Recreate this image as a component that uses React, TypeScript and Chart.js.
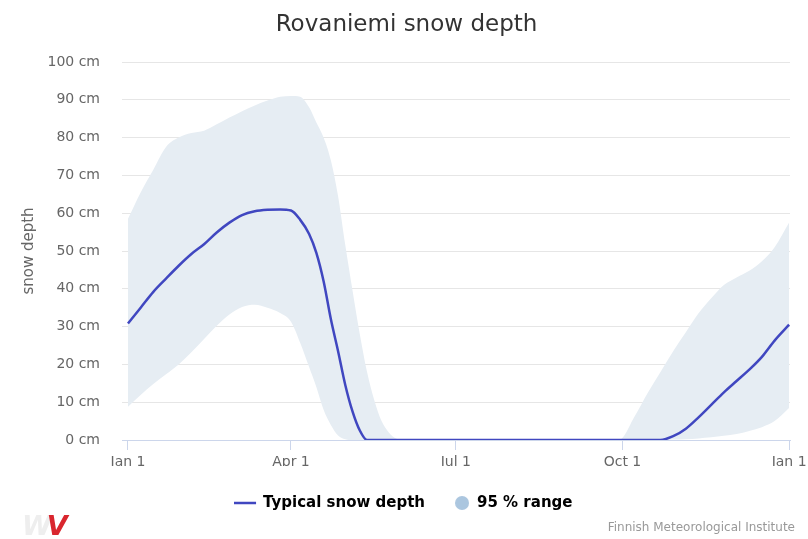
import React, { useEffect, useRef } from "react";
import { Chart, registerables } from "chart.js";

Chart.register(...registerables);

const chartTitle = "Rovaniemi snow depth";
const yAxisTitle = "snow depth";
const seriesNames = ["Typical snow depth", "95 % range"];
const creditText = "Finnish Meteorological Institute";

// day of year
const days = [0, 7, 14, 21, 28, 35, 42, 49, 56, 63, 70, 77, 84, 90, 95, 100, 104, 108, 112, 116, 120, 124, 128, 132, 136, 140, 144, 148, 152, 181, 271, 280, 287, 294, 301, 308, 315, 322, 329, 336, 343, 350, 357, 365];

const typicalDepth = [30.8, 35.0, 39.2, 42.7, 46.1, 49.2, 51.8, 54.9, 57.5, 59.5, 60.5, 60.9, 61.0, 60.7, 58.3, 54.5, 49.5, 42, 32, 23.5, 14.5, 7.5, 2.5, 0, 0, 0, 0, 0, 0, 0, 0, 0, 0, 0, 1.0, 3.0, 6.0, 9.3, 12.6, 15.6, 18.6, 22, 26.3, 30.5];

const rangeLow = [8.8, 11.9, 14.8, 17.4, 20, 23.2, 26.7, 30.2, 33.2, 35.2, 35.8, 35.0, 33.6, 31.3, 25.8, 19.3, 14, 8, 4, 1.2, 0.2, 0, 0, 0, 0, 0, 0, 0, 0, 0, 0, 0, 0, 0, 0.1, 0.2, 0.4, 0.7, 1.1, 1.6, 2.4, 3.4, 5, 8.5];

const rangeHigh = [58.5, 65.5, 71.5, 77.5, 80, 81.2, 81.8, 83.5, 85.3, 87, 88.5, 89.8, 90.8, 91, 90.8, 88, 84, 80, 74, 64.5, 51.5, 39.5, 28, 18, 10.5, 5, 2, 0.4, 0, 0, 0, 6.5, 12.5, 18, 23.5, 28.5, 33.5, 37.5, 41, 43, 44.8, 47.3, 51, 57.5];

const tickDays = [0, 90, 181, 273, 365];
const tickLabels = ["Jan 1", "Apr 1", "Jul 1", "Oct 1", "Jan 1"];

const LINE_COLOR = "#4047c0";
const BAND_COLOR = "#e6edf3";
const BAND_LEGEND_COLOR = "#abc6df";
const FONT = "DejaVu Sans";

function makeLineIcon(): HTMLCanvasElement {
  const c = document.createElement("canvas");
  c.width = 28;
  c.height = 4;
  const ctx = c.getContext("2d")!;
  ctx.strokeStyle = LINE_COLOR;
  ctx.lineWidth = 2.5;
  ctx.beginPath();
  ctx.moveTo(0, 2);
  ctx.lineTo(22, 2);
  ctx.stroke();
  return c;
}

function makeCircleIcon(): HTMLCanvasElement {
  const c = document.createElement("canvas");
  c.width = 14;
  c.height = 14;
  const ctx = c.getContext("2d")!;
  ctx.fillStyle = BAND_LEGEND_COLOR;
  ctx.beginPath();
  ctx.arc(7, 7, 7, 0, Math.PI * 2);
  ctx.fill();
  return c;
}

export default function App() {
  const canvasRef = useRef<HTMLCanvasElement | null>(null);

  useEffect(() => {
    if (!canvasRef.current) return;
    Chart.defaults.font.family = FONT;
    const lineIcon = makeLineIcon();
    const circleIcon = makeCircleIcon();
    const toPts = (vals: number[]) => days.map((d, i) => ({ x: d, y: vals[i] }));

    const chart = new Chart(canvasRef.current, {
      type: "line",
      data: {
        datasets: [
          {
            label: seriesNames[0],
            data: toPts(typicalDepth),
            borderColor: LINE_COLOR,
            borderWidth: 2.5,
            pointRadius: 0,
            fill: false,
            cubicInterpolationMode: "monotone",
          },
          {
            label: "low",
            data: toPts(rangeLow),
            borderWidth: 0,
            borderColor: "rgba(0,0,0,0)",
            pointRadius: 0,
            fill: false,
            cubicInterpolationMode: "monotone",
          },
          {
            label: seriesNames[1],
            data: toPts(rangeHigh),
            borderWidth: 0,
            borderColor: "rgba(0,0,0,0)",
            backgroundColor: BAND_COLOR,
            pointRadius: 0,
            fill: 1,
            cubicInterpolationMode: "monotone",
          },
        ],
      },
      options: {
        animation: false,
        responsive: false,
        maintainAspectRatio: false,
        layout: { padding: { left: 23, right: 18, top: 0, bottom: 18.5 } },
        scales: {
          x: {
            type: "linear",
            min: -3.3,
            max: 365.5,
            afterBuildTicks: (scale: any) => {
              scale.ticks = tickDays.map((v) => ({ value: v }));
            },
            afterFit: (scale: any) => {
              scale.height = 26;
              scale.paddingLeft = 0;
              scale.paddingRight = 0;
            },
            ticks: {
              autoSkip: false,
              maxRotation: 0,
              padding: 4,
              color: "#666",
              font: { size: 14, family: FONT },
              callback: (_v: any, i: number) => tickLabels[i],
            },
            grid: {
              drawOnChartArea: false,
              drawTicks: true,
              tickLength: 10,
              tickColor: "#ccd6eb",
              color: "#ccd6eb",
            },
            border: { display: true, color: "#ccd6eb", width: 1 },
          },
          y: {
            min: 0,
            max: 100,
            afterFit: (scale: any) => {
              scale.width = 99;
            },
            ticks: {
              stepSize: 10,
              padding: 22,
              color: "#666",
              font: { size: 14, family: FONT },
              callback: (v: any) => `${v} cm`,
            },
            grid: { color: "#e6e6e6", drawTicks: false, lineWidth: 1 },
            border: { display: false },
            title: {
              display: true,
              text: yAxisTitle,
              color: "#666",
              font: { size: 15, family: FONT },
              padding: { top: -3, bottom: 0 },
            },
          },
        },
        plugins: {
          title: {
            display: true,
            text: chartTitle,
            color: "#333",
            font: { size: 23, family: FONT, weight: "normal" },
            padding: { top: 11.2, bottom: 23.2 },
          },
          legend: {
            display: true,
            position: "bottom",
            align: "center",
            labels: {
              usePointStyle: true,
              padding: 29.5,
              color: "#333",
              font: { size: 15, family: FONT, weight: "bold" },
              generateLabels: () => [
                {
                  text: seriesNames[0],
                  pointStyle: lineIcon as any,
                  fillStyle: LINE_COLOR,
                  strokeStyle: LINE_COLOR,
                  lineWidth: 0,
                  hidden: false,
                  datasetIndex: 0,
                },
                {
                  text: seriesNames[1],
                  pointStyle: circleIcon as any,
                  fillStyle: BAND_LEGEND_COLOR,
                  strokeStyle: BAND_LEGEND_COLOR,
                  lineWidth: 0,
                  hidden: false,
                  datasetIndex: 2,
                },
              ],
            },
          },
          tooltip: { enabled: false },
        },
      } as any,
    });

    return () => {
      chart.destroy();
    };
  }, []);

  return (
    <div style={{ position: "fixed", left: 0, top: 0, width: 808, height: 539, background: "#fff" }}>
      <canvas ref={canvasRef} width={808} height={539} style={{ display: "block", width: 808, height: 539 }} />
      <div
        style={{
          position: "absolute",
          left: 22,
          top: 511,
          fontFamily: FONT,
          fontWeight: 900,
          fontStyle: "italic",
          fontSize: 27,
          letterSpacing: -5,
          lineHeight: "30px",
        }}
      >
        <span style={{ color: "#eeeeee" }}>W</span>
        <span style={{ color: "#d9262e" }}>V</span>
      </div>
      <div
        style={{
          position: "absolute",
          right: 13,
          top: 520,
          fontFamily: FONT,
          fontSize: 12,
          color: "#999",
          lineHeight: "15px",
          whiteSpace: "nowrap",
        }}
      >
        {creditText}
      </div>
    </div>
  );
}
